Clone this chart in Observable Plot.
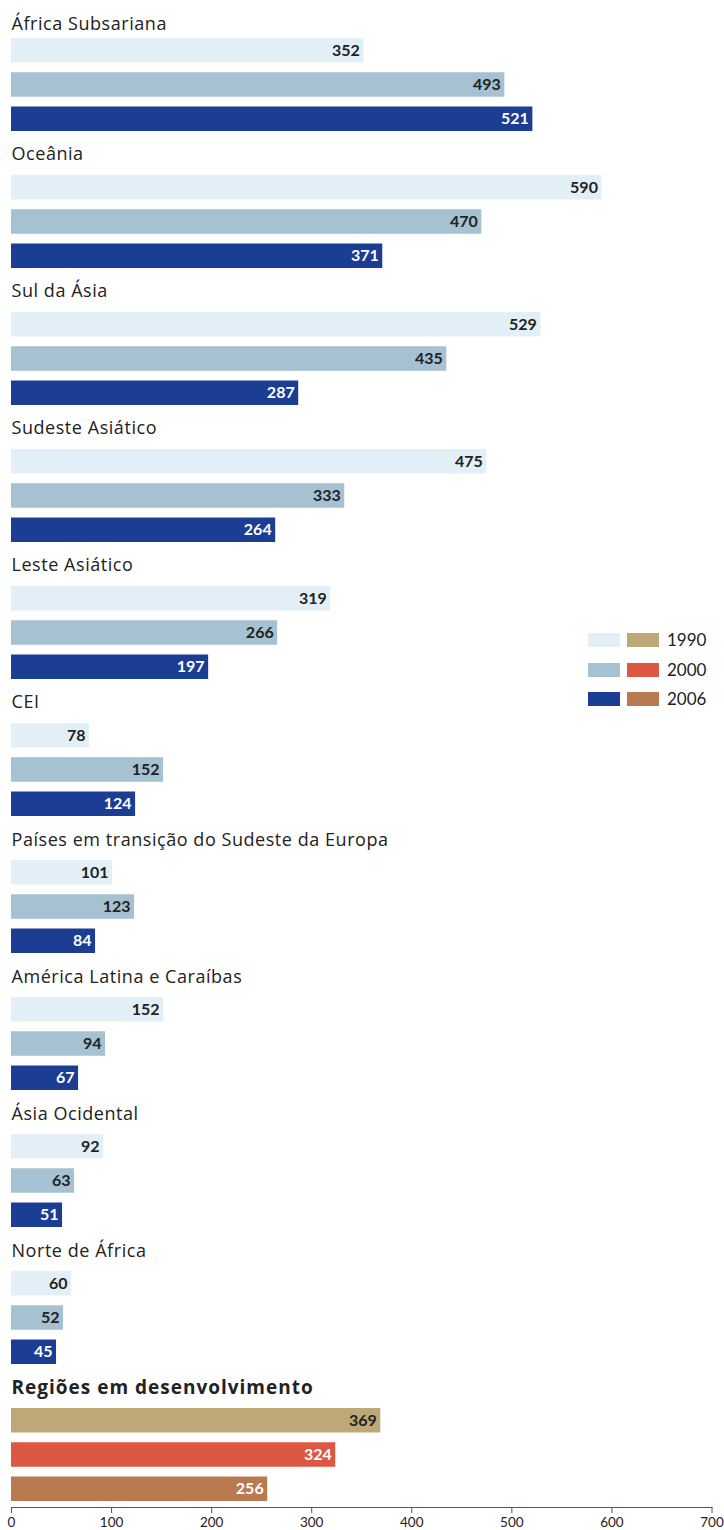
<!DOCTYPE html>
<html>
<head>
<meta charset="utf-8">
<script src="https://cdn.jsdelivr.net/npm/d3@7"></script>
<script src="https://cdn.jsdelivr.net/npm/@observablehq/plot@0.6"></script>
<style>
  html, body { margin: 0; padding: 0; background: #fff; }
  #wrap { position: relative; width: 724px; height: 1530px; font-family: Lato, "Open Sans", sans-serif; }
  #legend { position: absolute; left: 588px; top: 633px; }
  .row { display: flex; align-items: center; height: 14px; margin-bottom: 15.5px; }
  .sw { width: 32px; height: 14px; margin-right: 7px; }
  .lab { font-size: 17px; color: #222; margin-left: 1px; line-height: 14px; }
  .ttl text { letter-spacing: 0.55px; }
  .ttlb text { letter-spacing: 1px; }
</style>
</head>
<body>
<div id="wrap"></div>
<script>
const regions = [
  "África Subsariana", "Oceânia", "Sul da Ásia", "Sudeste Asiático", "Leste Asiático",
  "CEI", "Países em transição do Sudeste da Europa", "América Latina e Caraíbas",
  "Ásia Ocidental", "Norte de África", "Regiões em desenvolvimento"
];
const years = ["1990", "2000", "2006"];
const v1990 = [352, 590, 529, 475, 319, 78, 101, 152, 92, 60, 369];
const v2000 = [493, 470, 435, 333, 266, 152, 123, 94, 63, 52, 324];
const v2006 = [521, 371, 287, 264, 197, 124, 84, 67, 51, 45, 256];
const xTicks = [0, 100, 200, 300, 400, 500, 600, 700];

const blueColors = ["#e3eff7", "#a5c1d2", "#1c3d94"];
const totalColors = ["#bea878", "#dd5842", "#b87a4e"];
const blueText = ["#222222", "#222222", "#ffffff"];
const totalText = ["#222222", "#ffffff", "#ffffff"];

const series = [v1990, v2000, v2006];
const nGroups = regions.length;
const slots = d3.range(nGroups * 4);
const isTotal = (g) => g === nGroups - 1;

const titles = regions.map((name, g) => ({name, slot: g * 4, g}));
const bars = [];
regions.forEach((name, g) => {
  series.forEach((vals, s) => {
    bars.push({
      region: name, year: years[s], value: vals[g], slot: g * 4 + s + 1,
      color: isTotal(g) ? totalColors[s] : blueColors[s],
      textColor: isTotal(g) ? totalText[s] : blueText[s]
    });
  });
});

const titleFont = "'Open Sans', Lato, sans-serif";

const plot = Plot.plot({
  width: 724,
  height: 1530,
  marginLeft: 11,
  marginRight: 12.5,
  marginTop: 3.75,
  marginBottom: 23,
  style: {fontFamily: "Lato, 'Open Sans', sans-serif", background: "#fff"},
  x: {domain: [0, 700], label: null},
  y: {type: "band", domain: slots, paddingInner: 0.285, paddingOuter: 0, round: false, insetBottom: 6, axis: null},
  marks: [
    Plot.barX(bars, {x: "value", y: "slot", fill: "color"}),
    Plot.text(bars, {
      x: "value", y: "slot", text: (d) => String(d.value), textAnchor: "end", dx: -4,
      fill: "textColor", fontWeight: "bold", fontSize: 16
    }),
    Plot.text(titles.filter((d) => d.g === 0), {
      x: 0, y: "slot", text: "name", textAnchor: "start", lineAnchor: "bottom", dy: 14,
      fontSize: 18, fontFamily: titleFont, fill: "#222", className: "ttl"
    }),
    Plot.text(titles.filter((d) => d.g > 0 && !isTotal(d.g)), {
      x: 0, y: "slot", text: "name", textAnchor: "start", lineAnchor: "bottom", dy: 7,
      fontSize: 18, fontFamily: titleFont, fill: "#222", className: "ttl"
    }),
    Plot.text(titles.filter((d) => isTotal(d.g)), {
      x: 0, y: "slot", text: "name", textAnchor: "start", lineAnchor: "bottom", dy: 7,
      fontSize: 19, fontWeight: "bold", fontFamily: titleFont, fill: "#222", className: "ttlb"
    }),
    Plot.frame({anchor: "bottom", stroke: "#555"}),
    Plot.axisX({ticks: xTicks, tickSize: 6, tickPadding: 4, fontSize: 13.5, stroke: "#555", fill: "#222", tickFormat: (d) => String(d)})
  ]
});

const wrap = document.getElementById("wrap");
wrap.appendChild(plot);

const legend = document.createElement("div");
legend.id = "legend";
years.forEach((y, i) => {
  const row = document.createElement("div");
  row.className = "row";
  const a = document.createElement("div");
  a.className = "sw"; a.style.background = blueColors[i];
  const b = document.createElement("div");
  b.className = "sw"; b.style.background = totalColors[i];
  const t = document.createElement("span");
  t.className = "lab"; t.textContent = y;
  row.append(a, b, t);
  legend.appendChild(row);
});
wrap.appendChild(legend);
</script>
</body>
</html>
